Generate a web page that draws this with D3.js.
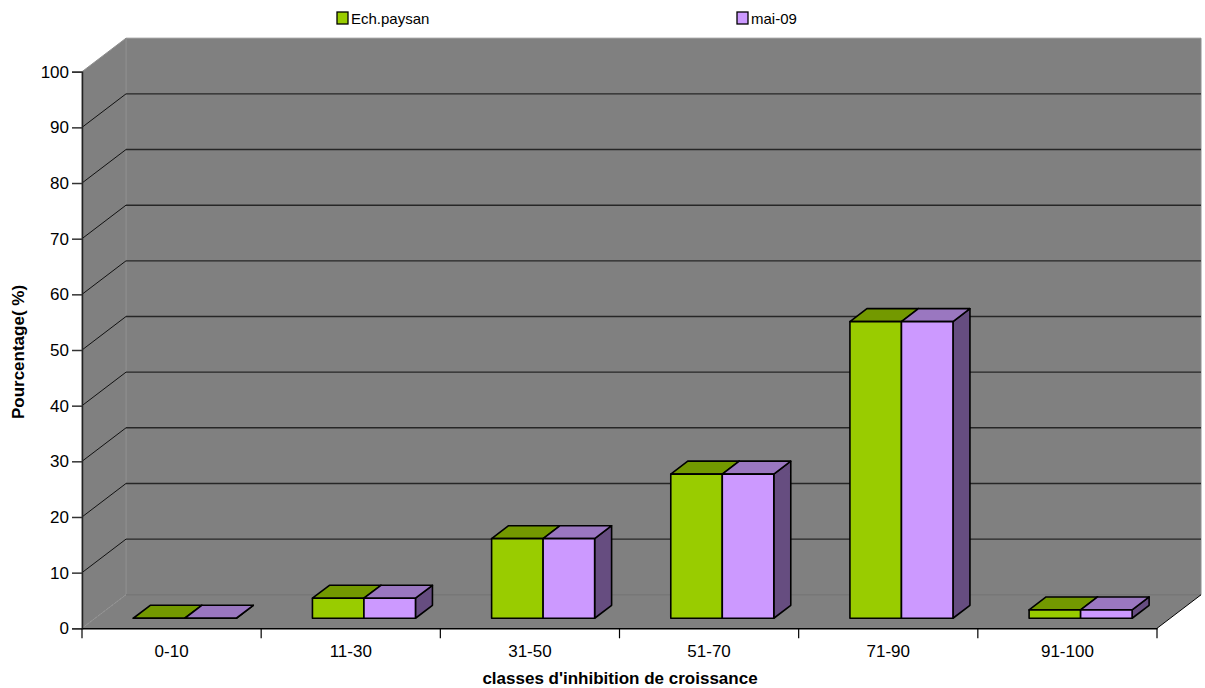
<!DOCTYPE html>
<html>
<head>
<meta charset="utf-8">
<script src="https://cdn.jsdelivr.net/npm/d3@7"></script>
<style>
  html, body { margin: 0; padding: 0; background: #ffffff; }
  svg { display: block; font-family: "Liberation Sans", Arial, sans-serif; }
</style>
</head>
<body>
<svg id="chart" width="1205" height="688"></svg>
<script>
// Growth-inhibition classes and the share (%) of isolates in each class
const categories = ["0-10", "11-30", "31-50", "51-70", "71-90", "91-100"];
const seriesNames = ["Ech.paysan", "mai-09"];
const echPaysan = [0, 3.6, 14.3, 25.9, 53.3, 1.5];
const mai09 = [0, 3.6, 14.3, 25.9, 53.3, 1.5];
const yTicks = [0, 10, 20, 30, 40, 50, 60, 70, 80, 90, 100];

const seriesValues = [echPaysan, mai09];
const palette = {
  "Ech.paysan": { front: "#99cc00", top: "#739900", side: "#4d6600" },
  "mai-09": { front: "#cc99ff", top: "#9a77c0", side: "#664d80" }
};

const svg = d3.select("#chart");

// plot box (front plane) and 3D depth offset
const plotLeft = 82, plotRight = 1157, plotBottom = 628.3, plotTop = 71.7;
const DX = 44, DY = -33.5;
const barDepth0 = 0.3, barDepth1 = 0.686;

const x = d3.scaleBand().domain(categories).range([plotLeft, plotRight]);
const xs = d3.scaleBand().domain(seriesNames)
  .range([0.2125 * x.bandwidth(), 0.7875 * x.bandwidth()]);
const y = d3.scaleLinear().domain([0, 100]).range([plotBottom, plotTop]);

const P = (px, py, f) => [px + f * DX, py + f * DY];
const poly = pts => "M" + pts.map(p => p.join(",")).join("L") + "Z";

const wallFill = "#808080";

// back wall
svg.append("path")
  .attr("d", poly([P(plotLeft, plotTop, 1), P(plotRight, plotTop, 1), P(plotRight, plotBottom, 1), P(plotLeft, plotBottom, 1)]))
  .attr("fill", wallFill).attr("stroke", "#8e8e8e").attr("stroke-width", 1);
// side wall
svg.append("path")
  .attr("d", poly([P(plotLeft, plotTop, 0), P(plotLeft, plotTop, 1), P(plotLeft, plotBottom, 1), P(plotLeft, plotBottom, 0)]))
  .attr("fill", wallFill).attr("stroke", "#8e8e8e").attr("stroke-width", 1);
// floor
svg.append("path")
  .attr("d", poly([P(plotLeft, plotBottom, 0), P(plotRight, plotBottom, 0), P(plotRight, plotBottom, 1), P(plotLeft, plotBottom, 1)]))
  .attr("fill", wallFill);

// floor edges
svg.append("line")
  .attr("x1", P(plotLeft, plotBottom, 1)[0]).attr("y1", P(plotLeft, plotBottom, 1)[1])
  .attr("x2", P(plotRight, plotBottom, 1)[0]).attr("y2", P(plotRight, plotBottom, 1)[1])
  .attr("stroke", "#6e6e6e").attr("stroke-width", 1);
svg.append("line")
  .attr("x1", P(plotLeft, plotBottom, 0)[0]).attr("y1", P(plotLeft, plotBottom, 0)[1])
  .attr("x2", P(plotLeft, plotBottom, 1)[0]).attr("y2", P(plotLeft, plotBottom, 1)[1])
  .attr("stroke", "#9a9a9a").attr("stroke-width", 1).attr("stroke-dasharray", "1,1");
svg.append("line")
  .attr("x1", P(plotRight, plotBottom, 0)[0]).attr("y1", P(plotRight, plotBottom, 0)[1])
  .attr("x2", P(plotRight, plotBottom, 1)[0]).attr("y2", P(plotRight, plotBottom, 1)[1])
  .attr("stroke", "#000").attr("stroke-width", 1);

// gridlines: back wall horizontals + side wall diagonals
const inner = yTicks.filter(v => v > 0 && v < 100);
svg.append("g").selectAll("line").data(inner).join("line")
  .attr("x1", d => P(plotLeft, y(d), 1)[0]).attr("y1", d => P(plotLeft, y(d), 1)[1])
  .attr("x2", d => P(plotRight, y(d), 1)[0]).attr("y2", d => P(plotRight, y(d), 1)[1])
  .attr("stroke", "#262626").attr("stroke-width", 1.4);
svg.append("g").selectAll("line").data(inner).join("line")
  .attr("x1", d => P(plotLeft, y(d), 0)[0]).attr("y1", d => P(plotLeft, y(d), 0)[1])
  .attr("x2", d => P(plotLeft, y(d), 1)[0]).attr("y2", d => P(plotLeft, y(d), 1)[1])
  .attr("stroke", "#111").attr("stroke-width", 1);

// bars
const barsG = svg.append("g");
categories.forEach((cat, i) => {
  seriesNames.forEach((s, j) => {
    const v = seriesValues[j][i];
    const xl = x(cat) + xs(s), xr = xl + xs.bandwidth();
    const yv = y(v), y0 = y(0);
    const c = palette[s];
    const g = barsG.append("g")
      .attr("stroke", "#000").attr("stroke-width", 1.6).attr("stroke-linejoin", "round");
    g.append("path")
      .attr("d", poly([P(xr, yv, barDepth0), P(xr, yv, barDepth1), P(xr, y0, barDepth1), P(xr, y0, barDepth0)]))
      .attr("fill", c.side);
    g.append("path")
      .attr("d", poly([P(xl, yv, barDepth0), P(xr, yv, barDepth0), P(xr, yv, barDepth1), P(xl, yv, barDepth1)]))
      .attr("fill", c.top);
    g.append("path")
      .attr("d", poly([P(xl, yv, barDepth0), P(xr, yv, barDepth0), P(xr, y0, barDepth0), P(xl, y0, barDepth0)]))
      .attr("fill", c.front);
  });
});

// y axis
const yAxis = svg.append("g").attr("transform", `translate(${plotLeft},0)`)
  .call(d3.axisLeft(y).tickValues(yTicks).tickSize(10).tickPadding(3).tickFormat(d3.format("d")));
yAxis.select(".domain").attr("stroke", "#222").attr("stroke-width", 1.5);
yAxis.selectAll(".tick line").attr("stroke", "#333").attr("stroke-width", 1.5);
yAxis.selectAll(".tick text").attr("font-size", 17).attr("fill", "#000")
  .attr("font-family", "Liberation Sans, Arial, sans-serif");

// x axis
const xAxis = svg.append("g").attr("transform", `translate(0,${plotBottom})`)
  .call(d3.axisBottom(x).tickSize(0).tickPadding(17));
xAxis.select(".domain").attr("stroke", "#000").attr("stroke-width", 1.5);
xAxis.selectAll(".tick text").attr("font-size", 17).attr("fill", "#000")
  .attr("font-family", "Liberation Sans, Arial, sans-serif");
const bounds = categories.map(c => x(c)).concat([plotRight]);
svg.append("g").selectAll("line").data(bounds).join("line")
  .attr("x1", d => d).attr("x2", d => d)
  .attr("y1", plotBottom).attr("y2", plotBottom + 10)
  .attr("stroke", "#000").attr("stroke-width", 1.2);

// axis titles
svg.append("text")
  .attr("x", 620).attr("y", 684)
  .attr("text-anchor", "middle").attr("font-size", 17).attr("font-weight", "bold")
  .text("classes d'inhibition de croissance");
svg.append("text")
  .attr("transform", "translate(24,352) rotate(-90)")
  .attr("text-anchor", "middle").attr("font-size", 17).attr("font-weight", "bold")
  .text("Pourcentage( %)");

// legend
const legendX = [337, 737];
const lg = svg.append("g").selectAll("g").data(seriesNames).join("g")
  .attr("transform", (d, i) => `translate(${legendX[i]},12)`);
lg.append("rect").attr("width", 11).attr("height", 12)
  .attr("fill", d => palette[d].front).attr("stroke", "#000").attr("stroke-width", 1.3);
lg.append("text").attr("x", 14).attr("y", 11.5)
  .attr("font-size", 15).text(d => d);
</script>
</body>
</html>
